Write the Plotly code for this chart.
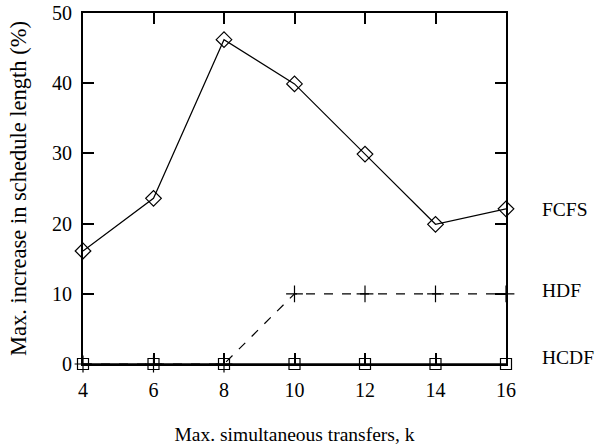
import plotly.graph_objects as go

k = [4, 6, 8, 10, 12, 14, 16]
fcfs = [16.1, 23.6, 46.2, 39.9, 29.9, 19.9, 22.1]
hdf = [0, 0, 0, 10, 10, 10, 10]
hcdf = [0, 0, 0, 0, 0, 0, 0]
series_names = ["FCFS", "HDF", "HCDF"]
label_y = [22, 10.5, 0.9]

font = "Liberation Serif"
fig = go.Figure()
fig.add_trace(go.Scatter(x=k, y=hcdf, mode="lines+markers", name="HCDF",
                         line=dict(color="black", width=1.5),
                         marker=dict(symbol="square-open", size=11, color="black", line=dict(width=1.2))))
fig.add_trace(go.Scatter(x=k, y=hdf, mode="lines+markers", name="HDF",
                         line=dict(color="black", width=1.2, dash="dash"),
                         marker=dict(symbol="cross-thin", size=12, color="black", line=dict(width=1.2, color="black"))))
fig.add_trace(go.Scatter(x=k, y=fcfs, mode="lines+markers", name="FCFS",
                         line=dict(color="black", width=1.2),
                         marker=dict(symbol="diamond-open", size=12, color="black", line=dict(width=1.2))))

for name, yy in zip(series_names, label_y):
    fig.add_annotation(x=1.08, xref="paper", y=yy, yref="y", text=name, showarrow=False,
                       xanchor="left", yanchor="middle", font=dict(family=font, size=19.5, color="black"))

axis_common = dict(showline=True, linecolor="black", linewidth=2, mirror="ticks", ticks="inside",
                   ticklen=11, tickwidth=2, tickcolor="black", showgrid=False, zeroline=False,
                   automargin=False, tickfont=dict(family=font, size=20, color="black"))
fig.update_xaxes(range=[4, 16], tickvals=k, ticklabelstandoff=7,
                 title=dict(text="Max. simultaneous transfers, k",
                 font=dict(family=font, size=19.5, color="black"), standoff=30), **axis_common)
fig.update_yaxes(range=[0, 50], tickvals=[0, 10, 20, 30, 40, 50], ticklabelstandoff=5,
                 title=dict(text="Max. increase in schedule length (%)",
                 font=dict(family=font, size=22.5, color="black"), standoff=19), **axis_common)
fig.update_layout(width=595, height=445, showlegend=False, plot_bgcolor="white", paper_bgcolor="white",
                  margin=dict(l=83, r=89, t=13, b=81), hovermode=False)
fig.update_traces(cliponaxis=False)
fig.write_html("out.html", config={"displayModeBar": False},
               post_script="document.body.style.margin='0';document.body.style.overflow='hidden';")
